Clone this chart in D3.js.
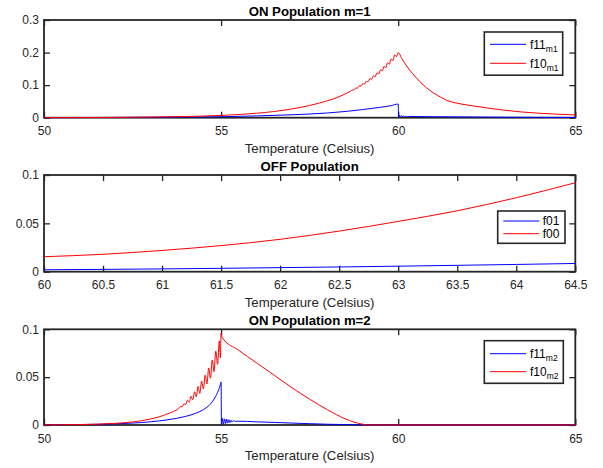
<!DOCTYPE html>
<html>
<head>
<meta charset="utf-8">
<script src="https://cdn.jsdelivr.net/npm/d3@7"></script>
<style>
  body { margin: 0; background: #fff; }
  svg { display: block; font-family: "Liberation Sans", Arial, Helvetica, sans-serif; }
</style>
</head>
<body>
<svg id="chart" width="603" height="468"></svg>
<script>
// ---------------- data ----------------
// ON population, m = 1
const f11m1T = [50, 51, 52, 53, 54, 55, 56, 57, 58, 58.5, 59, 59.5, 59.8, 60,
  60.01, 60.03, 60.06, 60.09, 60.12, 60.15, 60.18, 60.22, 60.26, 60.3, 60.5, 61, 62, 63, 64, 65];
const f11m1V = [0.0002, 0.0004, 0.0008, 0.0013, 0.002, 0.003, 0.0055, 0.009, 0.0145, 0.019, 0.025, 0.032, 0.037, 0.042,
  0.001, 0.008, 0.002, 0.0065, 0.002, 0.0055, 0.0025, 0.0045, 0.003, 0.004, 0.0035, 0.003, 0.0022, 0.0015, 0.001, 0.0007];

const f10m1T = [50, 51, 52, 53, 54, 55, 55.5, 56, 56.5, 57, 57.5, 58, 58.3, 58.5, 58.65,
  58.70, 58.75, 58.80, 58.85, 58.90, 58.95, 59.00, 59.05, 59.10, 59.15, 59.20, 59.25, 59.30,
  59.35, 59.40, 59.45, 59.50, 59.55, 59.60, 59.65, 59.70, 59.75, 59.80, 59.85, 59.90, 59.95,
  60, 60.1, 60.2, 60.4, 60.6, 60.8, 61.0, 61.2, 61.4, 61.6, 62, 62.5, 63, 63.5, 64, 64.5, 65];
const f10m1V = [0.0003, 0.0005, 0.0009, 0.0018, 0.0036, 0.007, 0.0098, 0.0137, 0.019, 0.027, 0.0375, 0.052, 0.063, 0.073, 0.081,
  0.0847, 0.0854, 0.0909, 0.0910, 0.0975, 0.0970, 0.1045, 0.1033, 0.1121, 0.1103, 0.1201, 0.1177, 0.1286,
  0.1257, 0.1377, 0.1343, 0.1473, 0.1434, 0.1577, 0.1533, 0.1687, 0.1639, 0.1804, 0.1752, 0.1929, 0.1874,
  0.2, 0.182, 0.165, 0.136, 0.112, 0.092, 0.076, 0.063, 0.052, 0.046, 0.038, 0.030, 0.023, 0.0175, 0.0135, 0.0108, 0.0085];

// OFF population
const offT = [60, 60.5, 61, 61.5, 62, 62.5, 63, 63.5, 64, 64.5];
const f01V = [0.002, 0.0024, 0.0029, 0.0035, 0.0042, 0.0049, 0.0057, 0.0066, 0.0075, 0.0085];
const f00V = [0.0155, 0.018, 0.022, 0.027, 0.0335, 0.042, 0.052, 0.063, 0.0765, 0.092];

// ON population, m = 2
const f11m2T = [50, 51, 52, 52.5, 53, 53.5, 54, 54.3, 54.5, 54.7, 54.8, 54.9, 54.97, 55,
  55.01, 55.04, 55.07, 55.1, 55.13, 55.16, 55.19, 55.22, 55.25, 55.28, 55.31, 55.35, 55.4, 55.5,
  56, 56.5, 57, 57.5, 58, 58.5, 59, 59.3, 60, 65];
const f11m2V = [0.0002, 0.0005, 0.0012, 0.002, 0.0033, 0.0055, 0.009, 0.0125, 0.016, 0.022, 0.027, 0.034, 0.041, 0.045,
  0.0005, 0.007, 0.001, 0.0065, 0.0015, 0.006, 0.002, 0.0055, 0.0025, 0.005, 0.003, 0.0045, 0.0038, 0.004,
  0.0033, 0.0027, 0.002, 0.0014, 0.0008, 0.0004, 0.0001, 0, 0, 0];

const f10m2T = [50, 51, 52, 52.5, 53, 53.5, 53.8,
  53.85, 53.90, 53.95, 54.00, 54.05, 54.10, 54.15, 54.20, 54.25, 54.30, 54.35, 54.40,
  54.45, 54.50, 54.55, 54.60, 54.65, 54.70, 54.75, 54.80, 54.85, 54.90, 54.95, 54.98,
  55.0, 55.02, 55.5, 56, 56.5, 57, 57.5, 58, 58.5, 59, 59.2, 60, 65];
const f10m2V = [0.00012, 0.00046, 0.0017, 0.0032, 0.0062, 0.0118, 0.0174,
  0.0192, 0.0191, 0.0223, 0.0212, 0.0258, 0.0237, 0.0300, 0.0264, 0.0347, 0.0294, 0.0403, 0.0331,
  0.0459, 0.0377, 0.0522, 0.0429, 0.0596, 0.0489, 0.0678, 0.0557, 0.0772, 0.0634, 0.0879, 0.0700,
  0.096, 0.092, 0.078, 0.065, 0.052, 0.039, 0.027, 0.016, 0.0065, 0.0008, 0, 0, 0];

// tick values and labels
const xTicksWide = [50, 55, 60, 65];
const xLabelsWide = ["50", "55", "60", "65"];
const xTicksOff = [60, 60.5, 61, 61.5, 62, 62.5, 63, 63.5, 64, 64.5];
const xLabelsOff = ["60", "60.5", "61", "61.5", "62", "62.5", "63", "63.5", "64", "64.5"];
const yTicksM1 = [0, 0.1, 0.2, 0.3];
const yLabelsM1 = ["0", "0.1", "0.2", "0.3"];
const yTicksSmall = [0, 0.05, 0.1];
const yLabelsSmall = ["0", "0.05", "0.1"];

const titles = ["ON Population m=1", "OFF Population", "ON Population m=2"];
const xAxisLabel = "Temperature (Celsius)";

// ---------------- layout ----------------
const L = 44, R = 575.3;
const BLUE = "#0000ff", RED = "#ff0000", AX = "#262626";

const panels = [
  {
    title: titles[0], top: 20, bottom: 117.7,
    xDomain: [50, 65], yDomain: [0, 0.3],
    xTicks: xTicksWide, xLabels: xLabelsWide, yTicks: yTicksM1, yLabels: yLabelsM1,
    series: [
      { t: f11m1T, v: f11m1V, color: BLUE, name: "f11", sub: "m1" },
      { t: f10m1T, v: f10m1V, color: RED, name: "f10", sub: "m1" }
    ],
    legend: { x: 484.3, y: 32, w: 78.4, h: 43.2, rows: [44.3, 63.3], lx: [490, 526], tx: 530 }
  },
  {
    title: titles[1], top: 175, bottom: 271.7,
    xDomain: [60, 64.5], yDomain: [0, 0.1],
    xTicks: xTicksOff, xLabels: xLabelsOff, yTicks: yTicksSmall, yLabels: yLabelsSmall,
    series: [
      { t: offT, v: f01V, color: BLUE, name: "f01", sub: "" },
      { t: offT, v: f00V, color: RED, name: "f00", sub: "" }
    ],
    legend: { x: 497.7, y: 211, w: 67.3, h: 32.3, rows: [221, 233.7], lx: [503.3, 539.3], tx: 542.7 }
  },
  {
    title: titles[2], top: 329.3, bottom: 425,
    xDomain: [50, 65], yDomain: [0, 0.1],
    xTicks: xTicksWide, xLabels: xLabelsWide, yTicks: yTicksSmall, yLabels: yLabelsSmall,
    series: [
      { t: f11m2T, v: f11m2V, color: BLUE, name: "f11", sub: "m2" },
      { t: f10m2T, v: f10m2V, color: RED, name: "f10", sub: "m2" }
    ],
    legend: { x: 484.3, y: 340.7, w: 79, h: 42.6, rows: [353.7, 371.7], lx: [490, 526], tx: 530 }
  }
];

const svg = d3.select("#chart");
svg.append("rect").attr("width", 603).attr("height", 468).attr("fill", "#fff");

function styleAxis(sel) {
  sel.select(".domain").remove();
  sel.selectAll(".tick line").attr("stroke", AX).attr("stroke-width", 1.3);
  sel.selectAll(".tick text")
    .attr("fill", AX)
    .attr("font-size", "12px")
    .attr("font-family", "'Liberation Sans', Arial, Helvetica, sans-serif");
  sel.attr("font-family", null).attr("font-size", null);
}

panels.forEach(p => {
  const x = d3.scaleLinear().domain(p.xDomain).range([L, R]);
  const y = d3.scaleLinear().domain(p.yDomain).range([p.bottom, p.top]);
  const g = svg.append("g");

  // inward ticks on all four sides, labels on bottom and left
  g.append("g").attr("transform", `translate(0,${p.bottom})`)
    .call(d3.axisBottom(x).tickValues(p.xTicks).tickFormat((d, i) => p.xLabels[i]).tickSize(-6).tickPadding(9))
    .call(styleAxis);
  g.append("g").attr("transform", `translate(0,${p.top})`)
    .call(d3.axisTop(x).tickValues(p.xTicks).tickFormat("").tickSize(-6))
    .call(styleAxis);
  g.append("g").attr("transform", `translate(${L},0)`)
    .call(d3.axisLeft(y).tickValues(p.yTicks).tickFormat((d, i) => p.yLabels[i]).tickSize(-6).tickPadding(5))
    .call(styleAxis);
  g.append("g").attr("transform", `translate(${R},0)`)
    .call(d3.axisRight(y).tickValues(p.yTicks).tickFormat("").tickSize(-6))
    .call(styleAxis);

  // axes box
  g.append("rect")
    .attr("x", L).attr("y", p.top)
    .attr("width", R - L).attr("height", p.bottom - p.top)
    .attr("fill", "none").attr("stroke", AX).attr("stroke-width", 1.8);

  // series lines
  const line = d3.line()
    .x(d => x(d[0]))
    .y(d => y(d[1]))
    .curve(d3.curveMonotoneX);
  p.series.forEach(s => {
    const pts = s.t.map((t, i) => [t, s.v[i]]);
    g.append("path")
      .datum(pts)
      .attr("d", line)
      .attr("fill", "none")
      .attr("stroke", s.color)
      .attr("stroke-width", 1)
      .attr("stroke-linejoin", "round");
  });

  // title and x label
  g.append("text")
    .attr("x", (L + R) / 2).attr("y", p.top - 4.5)
    .attr("text-anchor", "middle")
    .attr("font-size", "13.2px").attr("font-weight", "bold").attr("fill", "#000")
    .text(p.title);
  g.append("text")
    .attr("x", (L + R) / 2).attr("y", p.bottom + 35)
    .attr("text-anchor", "middle")
    .attr("font-size", "13.2px").attr("fill", AX)
    .text(xAxisLabel);

  // legend
  const lg = p.legend;
  const leg = g.append("g");
  leg.append("rect")
    .attr("x", lg.x).attr("y", lg.y).attr("width", lg.w).attr("height", lg.h)
    .attr("fill", "#fff").attr("stroke", AX).attr("stroke-width", 1.6);
  p.series.forEach((s, i) => {
    const ry = lg.rows[i];
    leg.append("line")
      .attr("x1", lg.lx[0]).attr("x2", lg.lx[1])
      .attr("y1", ry).attr("y2", ry)
      .attr("stroke", s.color).attr("stroke-width", 1);
    const t = leg.append("text")
      .attr("x", lg.tx).attr("y", ry + 4.2)
      .attr("font-size", "12px").attr("fill", "#000");
    t.append("tspan").text(s.name);
    if (s.sub) {
      t.append("tspan").attr("font-size", "8.5px").attr("dy", 3).text(s.sub);
    }
  });
});
</script>
</body>
</html>
